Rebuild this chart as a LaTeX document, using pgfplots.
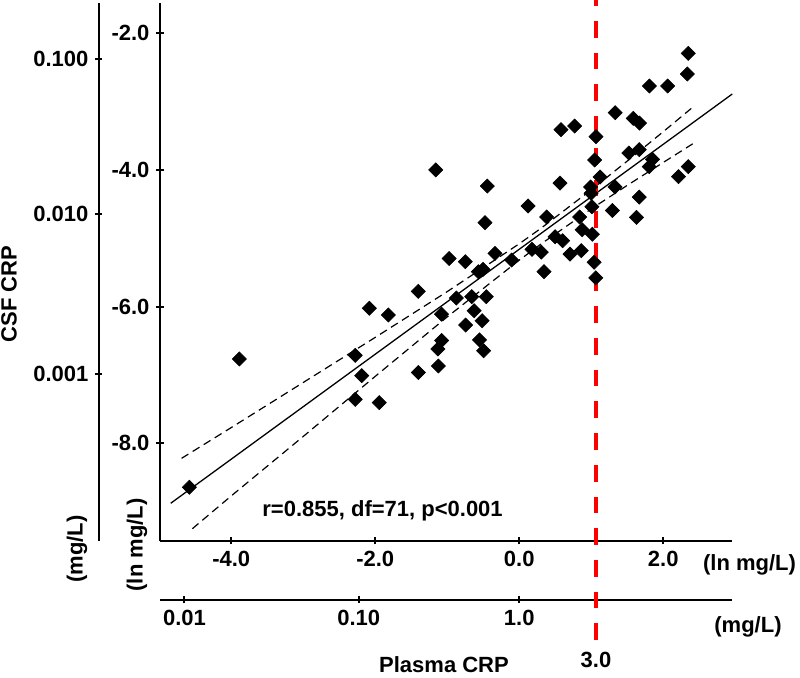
\documentclass[border=0pt]{standalone}
\usepackage{fontspec}
\setmainfont{Liberation Sans}
\usepackage{pgfplots}
\pgfplotsset{compat=1.18}
\begin{document}
\begin{tikzpicture}
\path[use as bounding box] (0,0) rectangle (400pt,339pt);
\pgfplotsset{
  myaxis/.style={
    scale only axis, width=286pt, height=269pt,
    xmin=-4.99, xmax=2.955, ymin=-9.43, ymax=-1.556,
    tick style={line width=1pt, black},
    tick align=outside, major tick length=3.5pt,
    ticklabel style={font=\fontsize{11}{13}\selectfont\bfseries},
    /pgf/number format/assume math mode=true,
  },
  noarrows/.style={
    axis line style={-, line width=1pt},
    x axis line style={-}, y axis line style={-},
    every outer x axis line/.append style={-},
    every outer y axis line/.append style={-},
  }
}
% outer y axis (mg/L)
\begin{axis}[myaxis, at={(49.5pt,68.5pt)}, anchor=south west,
  axis x line=none, axis y line=left, noarrows,
  ytick={-2.376,-4.644,-6.986}, yticklabels={0.100,0.010,0.001}]
\addplot[draw=none, forget plot] coordinates {(0,-5)};
\end{axis}
% outer x axis (mg/L)
\begin{axis}[myaxis, height=10pt, ymin=0, ymax=1, at={(80pt,39pt)}, anchor=south west,
  axis y line=none, axis x line=bottom, noarrows,
  xtick={-4.65,-2.23,0}, xticklabels={0.01,0.10,1.0}]
\addplot[draw=none, forget plot] coordinates {(0,0.5)};
\end{axis}
% main axis (ln mg/L)
\begin{axis}[myaxis, at={(80pt,68.5pt)}, anchor=south west,
  axis x line=bottom, axis y line=left, noarrows, clip=false,
  xtick={-4,-2,0,2}, xticklabels={-4.0,-2.0,0.0,2.0},
  ytick={-8,-6,-4,-2}, yticklabels={-8.0,-6.0,-4.0,-2.0}]
% confidence bands
\addplot[black, line width=0.6pt, dash pattern=on 4pt off 2.5pt] coordinates {
(-4.69,-8.22) (-4,-7.77) (-3,-7.11) (-2,-6.45) (-1,-5.78) (0,-5.08) (0.3,-4.855) (1,-4.29) (1.5,-3.87) (2,-3.44) (2.44,-3.055)};
\addplot[black, line width=0.6pt, dash pattern=on 4pt off 2.5pt] coordinates {
(-4.54,-9.25) (-4,-8.77) (-3,-7.90) (-2,-7.02) (-1,-6.15) (0,-5.32) (0.3,-5.085) (1,-4.57) (1.5,-4.225) (2,-3.89) (2.465,-3.58)};
% regression line
\addplot[black, line width=0.65pt] coordinates {(-4.841,-8.878) (2.959,-2.888)};
% data points
\addplot[only marks, mark=square*, mark size=2.5pt,
  mark options={rotate=45, fill=black, draw=black, line width=0.3pt}] table {
x y
2.348 -2.293
2.334 -2.595
1.809 -2.771
2.062 -2.771
1.333 -3.162
1.584 -3.244
1.670 -3.313
0.580 -3.411
0.770 -3.357
1.066 -3.513
-1.160 -4.000
1.048 -3.854
1.522 -3.752
1.667 -3.703
1.851 -3.844
1.805 -3.952
2.348 -3.952
2.212 -4.098
1.122 -4.103
-0.444 -4.235
0.566 -4.191
0.990 -4.249
1.330 -4.249
0.997 -4.341
1.667 -4.396
0.122 -4.527
1.010 -4.538
1.295 -4.593
0.381 -4.688
0.840 -4.688
-0.476 -4.772
1.628 -4.693
0.874 -4.874
1.015 -4.940
0.497 -4.977
0.603 -5.035
0.177 -5.161
0.306 -5.203
0.705 -5.230
0.862 -5.181
-0.973 -5.296
-0.749 -5.342
-0.337 -5.220
-0.105 -5.318
1.041 -5.350
-0.569 -5.489
-0.503 -5.454
0.344 -5.489
1.063 -5.578
-1.402 -5.776
-0.874 -5.874
-0.660 -5.855
-0.458 -5.855
-1.080 -6.111
-0.626 -6.060
-0.515 -6.206
-0.744 -6.269
-1.077 -6.496
-1.131 -6.620
-0.552 -6.488
-0.494 -6.645
-1.124 -6.869
-1.402 -6.964
-2.083 -6.024
-1.819 -6.122
-2.278 -6.712
-2.188 -7.011
-2.278 -7.356
-1.944 -7.406
-3.888 -6.766
-4.583 -8.644
};
% cut-off line at 3.0 mg/L
\addplot[red, line width=2pt, dash pattern=on 8.35pt off 7.5pt, dash phase=5.35pt]
  coordinates {(1.07,-1.513) (1.07,-10.95)};
\end{axis}
% labels, in picture pixel coordinates
\begin{scope}[shift={(0pt,339pt)}, x=0.5pt, y=-0.5pt, font=\fontsize{11}{13}\selectfont\bfseries]
\node[rotate=90] at (9,294) {CSF CRP};
\node[rotate=90] at (77,549) {(mg/L)};
\node[rotate=90] at (137,545) {(ln mg/L)};
\node at (749.5,565) {(ln mg/L)};
\node at (748,627) {(mg/L)};
\node at (444,665) {Plasma CRP};
\node at (596,660) {3.0};
\node[anchor=base west, inner sep=0pt] at (262,517) {r=0.855, df=71, p<0.001};
\end{scope}
\end{tikzpicture}
\end{document}
